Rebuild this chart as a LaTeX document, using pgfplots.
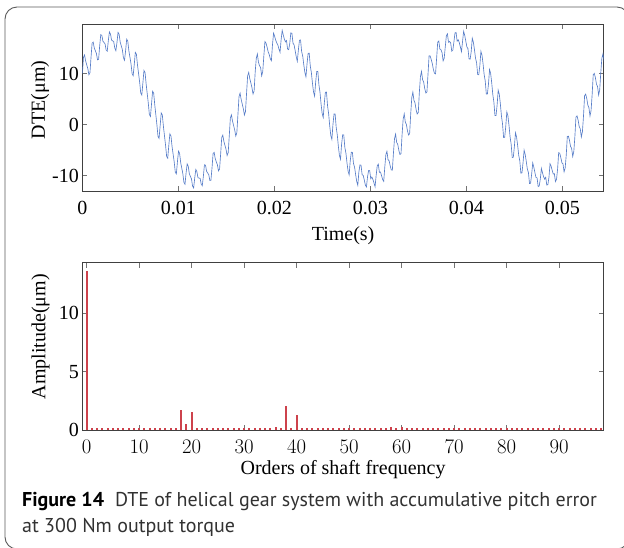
\documentclass[border=0pt]{standalone}
\usepackage{fontspec}
\setmainfont{Liberation Serif}
\newfontfamily\capfont{PT Sans}
\usepackage{pgfplots}
\pgfplotsset{compat=1.18}
\definecolor{dteblue}{RGB}{88,126,200}
\definecolor{specred}{RGB}{205,66,76}
\definecolor{framegray}{RGB}{90,90,90}
\definecolor{captxt}{RGB}{50,50,50}
\pgfplotsset{
  mystyle/.style={
    scale only axis,
    axis line style={draw=black!75, line width=0.6pt},
    tick style={draw=black!55, line width=0.6pt},
    tick align=inside,
    major tick length=5pt,
    tick label style={font=\fontsize{20}{20}\selectfont},
    label style={font=\fontsize{20}{20}\selectfont},
    clip=true,
  },
  specgeom/.style={
    scale only axis,
    at={(82.4pt,-430.3pt)}, anchor=south west,
    width=521.3pt, height=167.6pt,
    xmin=-0.8, xmax=98.5, ymin=0, ymax=14.29,
  }
}
\begin{document}
\begin{tikzpicture}
\path[use as bounding box] (0,0) rectangle (624pt,-547pt);
\draw[framegray, line width=0.9pt, rounded corners=12pt] (5pt,-7pt) rectangle (629pt,-549pt);
% ---------------- top: DTE time signal ----------------
\begin{axis}[mystyle,
  at={(82.4pt,-191pt)}, anchor=south west,
  width=521.3pt, height=166.7pt,
  xmin=0, xmax=482.7, ymin=-13, ymax=19.7,
  xtick={0,88.889,177.778,266.667,355.556,444.444},
  xticklabels={0,0.01,0.02,0.03,0.04,0.05},
  ytick={-10,0,10}, yticklabels={-10,0,10},
  xticklabel style={yshift=-7pt},
  xlabel={Time(s)}, ylabel={DTE(μm)},
  xlabel style={at={(axis description cs:0.5,-0.27)}, anchor=center},
  ylabel style={at={(axis description cs:-0.0813,0.546)}, anchor=center},
]
\addplot[dteblue, line width=0.65pt] coordinates {
(0,10.05)(1,13.23)(2,13.69)(3,12.49)(4,11.77)(5,11.03)(6,9.80)(7,10.18)
(8,13.27)(9,16.01)(10,16.22)(11,15.03)(12,14.51)(13,13.97)(14,12.73)(15,12.85)
(16,15.47)(17,17.66)(18,17.54)(19,16.38)(20,16.13)(21,15.85)(22,14.63)(23,14.42)
(24,16.46)(25,18.20)(26,17.80)(27,16.60)(28,16.46)(29,16.30)(30,15.03)(31,14.53)
(32,16.13)(33,18.12)(34,17.74)(35,16.20)(36,15.47)(37,14.73)(38,13.13)(39,12.65)
(40,14.51)(41,16.77)(42,16.42)(43,14.55)(44,13.27)(45,11.96)(46,10.05)(47,9.61)
(48,11.77)(49,14.19)(50,13.84)(51,11.73)(52,10.05)(53,8.37)(54,6.23)(55,5.82)
(56,8.17)(57,10.64)(58,10.27)(59,8.03)(60,6.15)(61,4.26)(62,2.01)(63,1.62)
(64,4.06)(65,6.57)(66,6.20)(67,3.91)(68,1.94)(69,-0.03)(70,-2.31)(71,-2.67)
(72,-0.15)(73,2.31)(74,1.93)(75,-0.30)(76,-2.17)(77,-4.02)(78,-6.23)(79,-6.57)
(80,-4.05)(81,-1.77)(82,-2.19)(83,-4.23)(84,-5.77)(85,-7.29)(86,-9.30)(87,-9.64)
(88,-7.27)(89,-5.19)(90,-5.62)(91,-7.41)(92,-8.51)(93,-9.59)(94,-11.33)(95,-11.67)
(96,-9.47)(97,-7.68)(98,-8.14)(99,-9.60)(100,-10.13)(101,-10.63)(102,-12.03)(103,-12.40)
(104,-10.46)(105,-8.78)(106,-9.20)(107,-10.38)(108,-10.46)(109,-10.52)(110,-11.63)(111,-11.95)
(112,-10.13)(113,-7.86)(114,-7.94)(115,-9.14)(116,-9.47)(117,-9.79)(118,-10.93)(119,-10.91)
(120,-8.51)(121,-5.67)(122,-5.42)(123,-6.65)(124,-7.27)(125,-7.86)(126,-9.05)(127,-8.71)
(128,-5.77)(129,-2.53)(130,-2.04)(131,-3.27)(132,-4.05)(133,-4.83)(134,-6.03)(135,-5.48)
(136,-2.17)(137,1.30)(138,1.93)(139,0.71)(140,-0.15)(141,-1.00)(142,-2.21)(143,-1.56)
(144,1.94)(145,5.51)(146,6.20)(147,4.97)(148,4.06)(149,3.15)(150,1.91)(151,2.59)
(152,6.15)(153,9.63)(154,10.27)(155,9.04)(156,8.17)(157,7.28)(158,6.03)(159,6.63)
(160,10.35)(161,13.03)(162,13.89)(163,12.29)(164,11.57)(165,11.23)(166,9.60)(167,10.48)
(168,13.47)(169,16.31)(170,16.02)(171,15.23)(172,14.31)(173,13.77)(174,12.93)(175,12.55)
(176,15.67)(177,17.96)(178,17.34)(179,16.58)(180,16.03)(181,15.65)(182,14.83)(183,14.22)
(184,16.66)(185,18.50)(186,17.60)(187,16.80)(188,16.26)(189,16.50)(190,14.83)(191,14.73)
(192,15.93)(193,18.02)(194,17.94)(195,16.00)(196,15.67)(197,14.53)(198,13.33)(199,12.45)
(200,14.71)(201,16.57)(202,16.62)(203,14.35)(204,13.47)(205,11.76)(206,10.25)(207,9.41)
(208,11.97)(209,13.99)(210,14.04)(211,11.53)(212,10.25)(213,8.17)(214,6.43)(215,5.62)
(216,8.37)(217,10.44)(218,10.47)(219,7.83)(220,6.35)(221,4.06)(222,2.21)(223,1.42)
(224,4.26)(225,6.37)(226,6.40)(227,3.71)(228,2.14)(229,-0.23)(230,-2.11)(231,-2.87)
(232,0.05)(233,2.11)(234,2.13)(235,-0.50)(236,-1.97)(237,-4.22)(238,-6.03)(239,-6.77)
(240,-3.85)(241,-1.97)(242,-1.99)(243,-4.43)(244,-5.57)(245,-7.49)(246,-9.10)(247,-9.84)
(248,-7.07)(249,-5.39)(250,-5.42)(251,-7.61)(252,-8.31)(253,-9.79)(254,-11.13)(255,-11.87)
(256,-9.27)(257,-7.88)(258,-7.94)(259,-9.80)(260,-9.93)(261,-10.83)(262,-11.83)(263,-12.20)
(264,-10.26)(265,-8.98)(266,-9.00)(267,-10.58)(268,-10.26)(269,-10.72)(270,-11.43)(271,-12.15)
(272,-9.93)(273,-8.06)(274,-7.74)(275,-9.34)(276,-9.27)(277,-9.99)(278,-10.73)(279,-11.11)
(280,-8.31)(281,-5.87)(282,-5.22)(283,-6.85)(284,-7.07)(285,-8.06)(286,-8.85)(287,-8.91)
(288,-5.57)(289,-2.73)(290,-1.84)(291,-3.47)(292,-3.85)(293,-5.03)(294,-5.83)(295,-5.68)
(296,-1.97)(297,1.10)(298,2.13)(299,0.51)(300,0.05)(301,-1.20)(302,-2.01)(303,-1.76)
(304,2.14)(305,5.31)(306,6.40)(307,4.77)(308,4.26)(309,2.95)(310,2.11)(311,2.39)
(312,6.35)(313,9.43)(314,10.47)(315,8.84)(316,8.37)(317,7.08)(318,6.23)(319,6.43)
(320,9.85)(321,13.53)(322,13.49)(323,12.79)(324,11.97)(325,10.83)(326,10.10)(327,9.98)
(328,13.07)(329,16.21)(330,16.42)(331,14.83)(332,14.71)(333,14.17)(334,12.53)(335,13.05)
(336,15.27)(337,17.46)(338,17.84)(339,16.18)(340,16.33)(341,16.05)(342,14.43)(343,14.62)
(344,16.26)(345,18.00)(346,18.10)(347,16.40)(348,16.66)(349,16.10)(350,15.23)(351,14.33)
(352,16.33)(353,18.32)(354,17.54)(355,16.40)(356,15.27)(357,14.93)(358,12.93)(359,12.85)
(360,14.31)(361,16.97)(362,16.22)(363,14.75)(364,13.07)(365,12.16)(366,9.85)(367,9.81)
(368,11.57)(369,14.39)(370,13.64)(371,11.93)(372,9.85)(373,8.57)(374,6.03)(375,6.02)
(376,7.97)(377,10.84)(378,10.07)(379,8.23)(380,5.95)(381,4.46)(382,1.81)(383,1.82)
(384,3.86)(385,6.77)(386,6.00)(387,4.11)(388,1.74)(389,0.17)(390,-2.51)(391,-2.47)
(392,-0.35)(393,2.51)(394,1.73)(395,-0.10)(396,-2.37)(397,-3.82)(398,-6.43)(399,-6.37)
(400,-4.25)(401,-1.57)(402,-2.39)(403,-4.03)(404,-5.97)(405,-7.09)(406,-9.50)(407,-9.44)
(408,-7.47)(409,-4.99)(410,-5.82)(411,-7.21)(412,-8.71)(413,-9.39)(414,-11.53)(415,-11.47)
(416,-9.67)(417,-7.48)(418,-8.34)(419,-9.40)(420,-10.33)(421,-10.43)(422,-12.13)(423,-12.00)
(424,-10.66)(425,-8.58)(426,-9.40)(427,-10.18)(428,-10.66)(429,-10.32)(430,-11.83)(431,-11.75)
(432,-10.33)(433,-7.66)(434,-8.14)(435,-8.94)(436,-9.67)(437,-9.59)(438,-11.13)(439,-10.71)
(440,-8.71)(441,-5.47)(442,-5.62)(443,-6.45)(444,-7.47)(445,-7.66)(446,-9.25)(447,-8.51)
(448,-5.97)(449,-2.33)(450,-2.24)(451,-3.07)(452,-4.25)(453,-4.63)(454,-6.23)(455,-5.28)
(456,-2.37)(457,1.50)(458,1.73)(459,0.91)(460,-0.35)(461,-0.80)(462,-2.41)(463,-1.36)
(464,1.74)(465,5.71)(466,6.00)(467,5.17)(468,3.86)(469,3.35)(470,1.71)(471,2.79)
(472,5.95)(473,9.83)(474,10.07)(475,9.24)(476,7.97)(477,7.48)(478,5.83)(479,6.83)
(480,10.25)(481,13.03)(482,13.89)(483,12.29)
};
\end{axis}
% ---------------- bottom: frame, ticks and labels ----------------
\begin{axis}[mystyle, specgeom,
  xtick={0,10,20,30,40,50,60,70,80,90},
  ytick={0,5,10}, yticklabels={0,5,10},
  xticklabel style={yshift=-6pt},
  xlabel={Orders of shaft frequency}, ylabel={Amplitude(μm)},
  xlabel style={at={(axis description cs:0.5,-0.232)}, anchor=center},
  ylabel style={at={(axis description cs:-0.0802,0.558)}, anchor=center},
]
\addplot[draw=none] coordinates {(0,0)(98,0)};
\end{axis}
% ---------------- bottom: spectrum stems drawn over the ticks ----------------
\begin{axis}[specgeom, hide axis, clip=true]
\addplot[ycomb, specred, line width=2.1pt] coordinates {
(0,13.6)(1,0.2)(2,0.2)(3,0.2)(4,0.2)(5,0.2)(6,0.2)(7,0.2)(8,0.2)(9,0.2)
(10,0.2)(11,0.2)(12,0.2)(13,0.2)(14,0.2)(15,0.2)(16,0.2)(17,0.2)(18,1.75)(19,0.52)
(20,1.6)(21,0.2)(22,0.2)(23,0.2)(24,0.2)(25,0.2)(26,0.2)(27,0.2)(28,0.2)(29,0.2)
(30,0.2)(31,0.2)(32,0.2)(33,0.2)(34,0.2)(35,0.2)(36,0.3)(37,0.2)(38,2.1)(39,0.2)
(40,1.3)(41,0.2)(42,0.2)(43,0.2)(44,0.2)(45,0.2)(46,0.2)(47,0.2)(48,0.2)(49,0.2)
(50,0.2)(51,0.2)(52,0.2)(53,0.2)(54,0.2)(55,0.2)(56,0.2)(57,0.2)(58,0.3)(59,0.2)
(60,0.28)(61,0.2)(62,0.2)(63,0.2)(64,0.2)(65,0.2)(66,0.2)(67,0.2)(68,0.2)(69,0.2)
(70,0.2)(71,0.2)(72,0.2)(73,0.2)(74,0.2)(75,0.2)(76,0.2)(77,0.2)(78,0.2)(79,0.2)
(80,0.2)(81,0.2)(82,0.2)(83,0.2)(84,0.2)(85,0.2)(86,0.2)(87,0.2)(88,0.2)(89,0.2)
(90,0.2)(91,0.2)(92,0.2)(93,0.2)(94,0.2)(95,0.2)(96,0.2)(97,0.2)(98,0.2)
};
\end{axis}
% ---------------- caption ----------------
\node[anchor=west, inner sep=0pt, text=captxt, font=\capfont\fontsize{20}{20}\selectfont] at (22pt,-501pt)
  {{\bfseries\color{black}Figure 14}\hspace{0.55em}DTE of helical gear system with accumulative pitch error};
\node[anchor=west, inner sep=0pt, text=captxt, font=\capfont\fontsize{20}{20}\selectfont] at (22pt,-527pt)
  {at 300 Nm output torque};
\end{tikzpicture}
\end{document}
